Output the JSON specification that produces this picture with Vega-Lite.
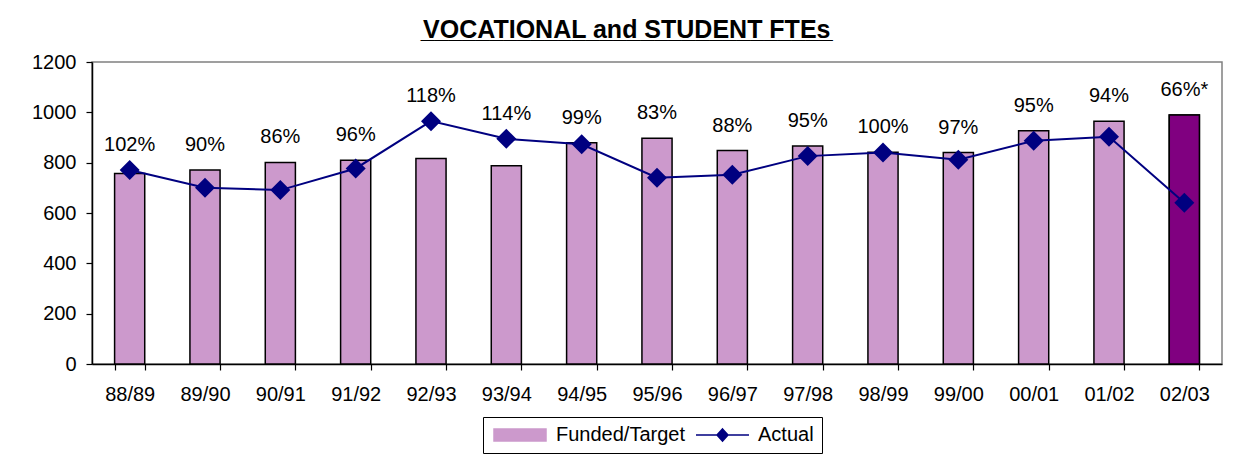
{
  "$schema": "https://vega.github.io/schema/vega-lite/v6.json",
  "width": 1130,
  "height": 302,
  "autosize": "none",
  "padding": {"left": 92, "top": 62, "right": 19, "bottom": 91},
  "background": "white",
  "config": {
    "font": "Liberation Sans",
    "view": {"stroke": "#808080", "strokeWidth": 1.5},
    "axis": {
      "labelFont": "Liberation Sans",
      "labelFontSize": 20,
      "labelColor": "black",
      "domainColor": "black",
      "domainWidth": 1.5,
      "tickColor": "black",
      "tickWidth": 1.2,
      "grid": false,
      "title": null
    },
    "legend": {"labelFont": "Liberation Sans"}
  },
  "title": {
    "text": "VOCATIONAL and STUDENT FTEs",
    "subtitle": "______________________________",
    "font": "Liberation Sans",
    "fontSize": 25,
    "fontWeight": "bold",
    "color": "black",
    "subtitleFont": "Liberation Sans",
    "subtitleFontSize": 24.7,
    "subtitleFontWeight": "bold",
    "subtitleColor": "black",
    "subtitlePadding": -25,
    "anchor": "middle",
    "frame": "bounds",
    "offset": 9
  },
  "data": {
    "values": [
      {"Year": "88/89", "Funded": 757, "Actual": 771, "Pct": "102%"},
      {"Year": "89/90", "Funded": 771, "Actual": 700, "Pct": "90%"},
      {"Year": "90/91", "Funded": 801, "Actual": 691, "Pct": "86%"},
      {"Year": "91/92", "Funded": 810, "Actual": 777, "Pct": "96%"},
      {"Year": "92/93", "Funded": 817, "Actual": 965, "Pct": "118%"},
      {"Year": "93/94", "Funded": 788, "Actual": 895, "Pct": "114%"},
      {"Year": "94/95", "Funded": 879, "Actual": 873, "Pct": "99%"},
      {"Year": "95/96", "Funded": 897, "Actual": 740, "Pct": "83%"},
      {"Year": "96/97", "Funded": 848, "Actual": 752, "Pct": "88%"},
      {"Year": "97/98", "Funded": 866, "Actual": 826, "Pct": "95%"},
      {"Year": "98/99", "Funded": 841, "Actual": 840, "Pct": "100%"},
      {"Year": "99/00", "Funded": 840, "Actual": 812, "Pct": "97%"},
      {"Year": "00/01", "Funded": 927, "Actual": 887, "Pct": "95%"},
      {"Year": "01/02", "Funded": 965, "Actual": 903, "Pct": "94%"},
      {"Year": "02/03", "Funded": 989, "Actual": 641, "Pct": "66%*"}
    ]
  },
  "encoding": {
    "x": {
      "field": "Year",
      "type": "nominal",
      "sort": null,
      "scale": {"paddingInner": 0.6, "paddingOuter": 0.3},
      "axis": {"labelAngle": 0, "tickBand": "extent", "tickSize": 6, "labelPadding": 14}
    }
  },
  "layer": [
    {
      "mark": {"type": "bar", "stroke": "black", "strokeWidth": 1.5},
      "encoding": {
        "y": {
          "field": "Funded",
          "type": "quantitative",
          "scale": {"domain": [0, 1200], "nice": false},
          "axis": {"values": [0, 200, 400, 600, 800, 1000, 1200], "format": "d", "tickSize": 6, "labelPadding": 10}
        },
        "color": {
          "datum": "Funded/Target",
          "type": "nominal",
          "scale": {"domain": ["Funded/Target", "Actual"], "range": ["#CC99CC", "#000080"]},
          "legend": {
            "title": null,
            "orient": "none",
            "legendX": 391,
            "legendY": 355,
            "direction": "horizontal",
            "strokeColor": "black",
            "fillColor": "white",
            "padding": 8,
            "labelFontSize": 20,
            "labelColor": "black",
            "labelOffset": 45,
            "columnPadding": 8,
            "symbolSize": 196,
            "symbolStrokeWidth": 1.5,
            "symbolType": {"expr": "datum.value === 'Actual' ? 'M-1,0H6.57M2.79,-0.86L3.57,0L2.79,0.86L2.0,0Z' : 'M-1,-0.86H6.43V0.86H-1Z'"},
            "symbolFillColor": {"expr": "datum.value === 'Actual' ? '#000080' : '#CC99CC'"},
            "symbolStrokeColor": {"expr": "datum.value === 'Actual' ? '#000080' : 'black'"}
          }
        }
      }
    },
    {
      "transform": [{"filter": "datum.Year === '02/03'"}],
      "mark": {"type": "bar", "stroke": "black", "strokeWidth": 1.5, "color": "#800080"},
      "encoding": {
        "y": {"field": "Funded", "type": "quantitative"}
      }
    },
    {
      "mark": {"type": "line", "strokeWidth": 2},
      "encoding": {
        "y": {"field": "Actual", "type": "quantitative"},
        "color": {"datum": "Actual", "type": "nominal"}
      }
    },
    {
      "mark": {"type": "point", "shape": "diamond", "size": 400, "filled": true, "opacity": 1},
      "encoding": {
        "y": {"field": "Actual", "type": "quantitative"},
        "color": {"datum": "Actual", "type": "nominal"}
      }
    },
    {
      "transform": [{"calculate": "max(datum.Funded, datum.Actual)", "as": "LabelBase"}],
      "mark": {"type": "text", "fontSize": 20, "dy": -25, "baseline": "middle", "color": "black", "font": "Liberation Sans"},
      "encoding": {
        "y": {"field": "LabelBase", "type": "quantitative"},
        "text": {"field": "Pct", "type": "nominal"}
      }
    }
  ]
}
